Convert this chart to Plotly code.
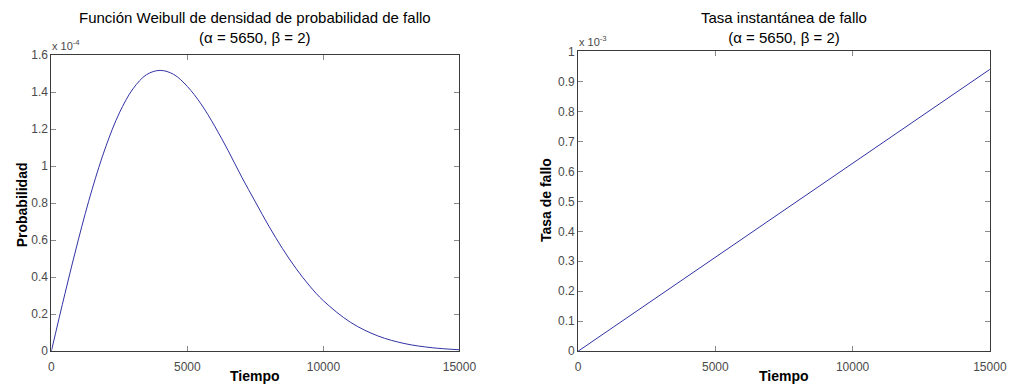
import plotly.graph_objects as go

# ---- data ----
tiempo_pdf = [0, 500, 1000, 1500, 2000, 2500, 3000, 3500, 4000, 4500, 5000, 5500,
              6000, 6500, 7000, 7500, 8000, 8500, 9000, 9500, 10000, 11000, 12000,
              13000, 14000, 15000]
probabilidad = [0, 3.11e-5, 6.07e-5, 8.76e-5, 1.105e-4, 1.288e-4, 1.418e-4, 1.495e-4,
                1.518e-4, 1.496e-4, 1.431e-4, 1.337e-4, 1.218e-4, 1.084e-4, 9.41e-5,
                8.07e-5, 6.75e-5, 5.54e-5, 4.46e-5, 3.52e-5, 2.73e-5, 1.56e-5, 8.3e-6,
                4.1e-6, 1.9e-6, 8e-7]

tiempo_tasa = [0, 5000, 10000, 15000]
tasa_fallo = [0, 3.13e-4, 6.27e-4, 9.40e-4]

xticks = [0, 5000, 10000, 15000]
xtick_text = ["0", "5000", "10000", "15000"]
y1_ticks = [0, 0.2e-4, 0.4e-4, 0.6e-4, 0.8e-4, 1.0e-4, 1.2e-4, 1.4e-4, 1.6e-4]
y1_text = ["0", "0.2", "0.4", "0.6", "0.8", "1", "1.2", "1.4", "1.6"]
y2_ticks = [i * 1e-4 for i in range(11)]
y2_text = ["0", "0.1", "0.2", "0.3", "0.4", "0.5", "0.6", "0.7", "0.8", "0.9", "1"]

title1 = "Función Weibull de densidad de probabilidad de fallo<br>(α = 5650, β = 2)"
title2 = "Tasa instantánea de fallo<br>(α = 5650, β = 2)"

W, H = 1026, 392
FONT = "Liberation Sans, Arial, sans-serif"
LINE = "rgb(50,50,165)"

# pixel geometry
L1, R1 = 49.3, 465.5
L2, R2 = 586.5, 1006.5
TOP1, TOP2, BOT = 50, 46, 357

def px(x):
    return x / W

def py(y):
    return 1 - y / H

fig = go.Figure()
fig.add_trace(go.Scatter(x=tiempo_pdf, y=probabilidad, mode="lines", line=dict(color=LINE, width=1, shape="spline"),
                         xaxis="x", yaxis="y", showlegend=False, hoverinfo="skip"))
fig.add_trace(go.Scatter(x=tiempo_tasa, y=tasa_fallo, mode="lines", line=dict(color=LINE, width=1),
                         xaxis="x2", yaxis="y2", showlegend=False, hoverinfo="skip"))

axis_common = dict(showline=True, linecolor="#3a3a3a", linewidth=1, mirror="allticks", ticks="inside",
                   ticklen=5, tickcolor="#8a8a8a", showgrid=False, zeroline=False,
                   tickfont=dict(family=FONT, size=12, color="#4a4a4a"))

fig.update_layout(
    width=W, height=H, margin=dict(l=0, r=0, t=0, b=0),
    paper_bgcolor="white", plot_bgcolor="white",
    xaxis=dict(domain=[px(L1), px(R1)], range=[0, 15000], tickvals=xticks, ticktext=xtick_text,
               anchor="y", ticklabelstandoff=4, **axis_common),
    yaxis=dict(domain=[py(BOT), py(TOP1)], range=[0, 1.6e-4], tickvals=y1_ticks, ticktext=y1_text,
               anchor="x", **axis_common),
    xaxis2=dict(domain=[px(L2), px(R2)], range=[0, 15000], tickvals=xticks, ticktext=xtick_text,
                anchor="y2", ticklabelstandoff=4, **axis_common),
    yaxis2=dict(domain=[py(BOT), py(TOP2)], range=[0, 1e-3], tickvals=y2_ticks, ticktext=y2_text,
                anchor="x2", **axis_common),
)

ann = []
# titles
for (l, r, t) in [(L1, R1, title1), (L2, R2, title2)]:
    ann.append(dict(x=px((l + r) / 2), y=py(43), xref="paper", yref="paper", text=t,
                    showarrow=False, xanchor="center", yanchor="bottom",
                    font=dict(family=FONT, size=15, color="black")))
# exponent labels
ann.append(dict(x=px(L1 - 1), y=py(TOP1 - 1), xref="paper", yref="paper", text="x 10<sup>-4</sup>",
                showarrow=False, xanchor="left", yanchor="bottom", font=dict(family=FONT, size=11, color="#4a4a4a")))
ann.append(dict(x=px(L2 - 1), y=py(TOP2 - 1), xref="paper", yref="paper", text="x 10<sup>-3</sup>",
                showarrow=False, xanchor="left", yanchor="bottom", font=dict(family=FONT, size=11, color="#4a4a4a")))
# x axis titles
for (l, r) in [(L1, R1), (L2, R2)]:
    ann.append(dict(x=px((l + r) / 2), y=py(383), xref="paper", yref="paper", text="<b>Tiempo</b>",
                    showarrow=False, xanchor="center", yanchor="middle",
                    font=dict(family=FONT, size=14, color="black")))
# y axis titles
ann.append(dict(x=px(19), y=py(205), xref="paper", yref="paper", text="<b>Probabilidad</b>",
                textangle=-90, showarrow=False, xanchor="center", yanchor="middle",
                font=dict(family=FONT, size=14, color="black")))
ann.append(dict(x=px(554), y=py(200), xref="paper", yref="paper", text="<b>Tasa de fallo</b>",
                textangle=-90, showarrow=False, xanchor="center", yanchor="middle",
                font=dict(family=FONT, size=14, color="black")))
fig.update_layout(annotations=ann)

fig.write_html("out.html")
